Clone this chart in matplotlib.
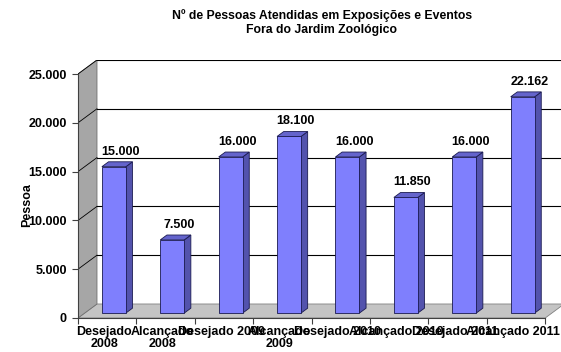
import matplotlib.pyplot as plt
from matplotlib.patches import Polygon
import numpy as np

categorias = ["Desejado\n2008", "Alcançado\n2008", "Desejado 2009", "Alcançado\n2009",
              "Desejado 2010", "Alcançado 2010", "Desejado 2011", "Alcançado 2011"]
valores = [15000, 7500, 16000, 18100, 16000, 11850, 16000, 22162]
y_ticks = [0, 5000, 10000, 15000, 20000, 25000]

plt.rcParams['font.family'] = ['Liberation Sans', 'DejaVu Sans']
plt.rcParams['font.weight'] = 'bold'


def fmt(v):
    return f"{v:,}".replace(",", ".")


# pseudo 3D: depth offset of the back wall (x in categories, y in data units)
DX, DY = 0.325, 1435
Z0, Z1 = 0.35, 0.70      # front / back depth of each bar
W = 0.41
YMAX = 25000

front_c = '#7f7ffd'
side_c = '#5353ad'
top_c = '#6464cc'
edge_c = '#1a1a50'

fig = plt.figure(figsize=(5.61, 3.52), dpi=100)
ax = fig.add_axes([78 / 561, 34 / 352, 483 / 561, 258 / 352])
ax.set_xlim(-0.5, -0.5 + 483 / 58.4)
ax.set_ylim(0, YMAX + DY)

n = len(valores)
x = np.arange(n)
xl, xr = -0.5, n - 0.5

# floor
ax.add_patch(Polygon([(xl, 0), (xr, 0), (xr + DX, DY), (xl + DX, DY)],
                     closed=True, fc='#c4c4c4', ec='#808080', lw=0.6, zorder=1))
# left wall
ax.add_patch(Polygon([(xl, 0), (xl, YMAX), (xl + DX, YMAX + DY), (xl + DX, DY)],
                     closed=True, fc='#a6a6a6', ec='#707070', lw=0.6, zorder=1))

# gridlines on the back wall and the left wall
x_end = ax.get_xlim()[1]
for v in y_ticks[1:]:
    ax.plot([xl + DX, x_end], [v + DY, v + DY], color='black', lw=0.8, zorder=2)
    ax.plot([xl, xl + DX], [v, v + DY], color='black', lw=0.6, zorder=2)

# bars: front face, side, top
xf = x + Z0 * DX
ax.bar(xf, valores, width=W, bottom=Z0 * DY, color=front_c,
       edgecolor=edge_c, lw=0.6, zorder=4)
for c, v in zip(x, valores):
    r = c + W / 2
    l = c - W / 2
    side = [(r + Z0 * DX, Z0 * DY), (r + Z0 * DX, v + Z0 * DY),
            (r + Z1 * DX, v + Z1 * DY), (r + Z1 * DX, Z1 * DY)]
    top = [(l + Z0 * DX, v + Z0 * DY), (r + Z0 * DX, v + Z0 * DY),
           (r + Z1 * DX, v + Z1 * DY), (l + Z1 * DX, v + Z1 * DY)]
    ax.add_patch(Polygon(side, closed=True, fc=side_c, ec=edge_c, lw=0.6, zorder=3))
    ax.add_patch(Polygon(top, closed=True, fc=top_c, ec=edge_c, lw=0.6, zorder=3))
    ax.annotate(fmt(v), (c + Z1 * DX, v + Z1 * DY), xytext=(0, 3),
                textcoords='offset points', ha='center', va='bottom',
                fontsize=9, fontweight='bold', zorder=5)

# axes
for s in ['top', 'right']:
    ax.spines[s].set_visible(False)
ax.spines['left'].set_bounds(0, YMAX)
ax.spines['bottom'].set_bounds(xl, xr)
ax.spines['left'].set_color('#404040')
ax.spines['bottom'].set_color('#404040')
ax.spines['left'].set_linewidth(0.8)
ax.spines['bottom'].set_linewidth(0.8)

ax.set_yticks(y_ticks)
ax.set_yticklabels([fmt(v) for v in y_ticks], fontsize=9, fontweight='bold')
ax.tick_params(axis='y', length=4, width=0.8, color='#404040', pad=4)

ax.set_xticks(x - 0.05)
ax.set_xticklabels(categorias, fontsize=9, fontweight='bold', linespacing=1.0)
ax.set_xticks(np.arange(xl, xr + 0.1, 1), minor=True)
ax.tick_params(axis='x', which='major', length=0, pad=6)
ax.tick_params(axis='x', which='minor', length=4, width=0.8, color='#404040')

fig.text(27 / 561, 1 - 205 / 352, 'Pessoa', rotation=90, ha='center', va='center',
         fontsize=9, fontweight='bold')
fig.text(322 / 561, 1 - 16 / 352, 'Nº de Pessoas Atendidas em Exposições e Eventos',
         ha='center', va='center', fontsize=8.8, fontweight='bold')
fig.text(322 / 561, 1 - 30 / 352, 'Fora do Jardim Zoológico',
         ha='center', va='center', fontsize=8.8, fontweight='bold')

fig.savefig('out.png', dpi=100, facecolor='white')
